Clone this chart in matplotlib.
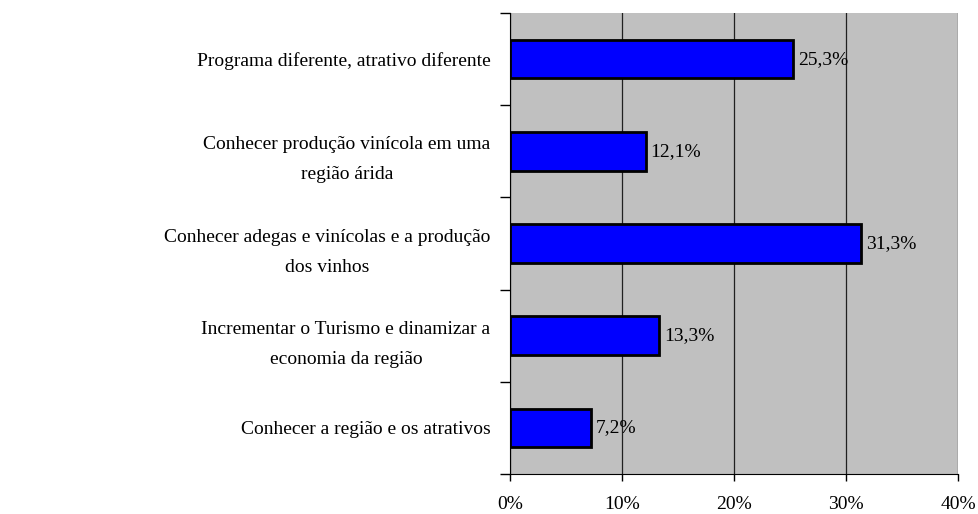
import numpy as np
import matplotlib.pyplot as plt

categorias = [
    "Conhecer a região e os atrativos",
    "Incrementar o Turismo e dinamizar a\neconomia da região",
    "Conhecer adegas e vinícolas e a produção\ndos vinhos",
    "Conhecer produção vinícola em uma\nregião árida",
    "Programa diferente, atrativo diferente",
]
percentuais = [7.2, 13.3, 31.3, 12.1, 25.3]
rotulos = ["7,2%", "13,3%", "31,3%", "12,1%", "25,3%"]
xticks = [0, 10, 20, 30, 40]
xticklabels = ["0%", "10%", "20%", "30%", "40%"]

plt.rcParams['font.family'] = ['Liberation Serif', 'DejaVu Serif']
plt.rcParams['font.size'] = 14

fig = plt.figure(figsize=(9.79, 5.14), dpi=100)
ax = fig.add_axes([510 / 979, 1 - 474 / 514, 448 / 979, 461 / 514])
ax.set_facecolor('#C0C0C0')

# barras horizontais com o percentual de cada motivo
y = np.arange(len(categorias))
ax.barh(y, percentuais, height=0.42, color='#0000FF', edgecolor='black',
        linewidth=2, zorder=3)
for yi, v, r in zip(y, percentuais, rotulos):
    ax.text(v + 0.45, yi, r, va='center', ha='left', zorder=4)

ax.set_xlim(0, 40)
ax.set_ylim(-0.5, len(categorias) - 0.5)
ax.set_xticks(xticks)
ax.set_xticklabels(xticklabels)
ax.set_yticks(y)
ax.set_yticklabels(categorias, multialignment='center', linespacing=2.0)
# marcas do eixo y entre as categorias
ax.set_yticks(np.arange(-0.5, len(categorias)), minor=True)
ax.tick_params(axis='y', which='major', length=0, pad=14)
ax.tick_params(axis='y', which='minor', length=7, width=1, direction='out')
ax.tick_params(axis='x', length=5, width=1, direction='out', pad=11)
ax.xaxis.grid(True, color='#202020', linewidth=0.9, zorder=1)
ax.set_axisbelow(True)

for s in ['top', 'right']:
    ax.spines[s].set_visible(False)

plt.savefig('out.png', dpi=100, facecolor='white')
